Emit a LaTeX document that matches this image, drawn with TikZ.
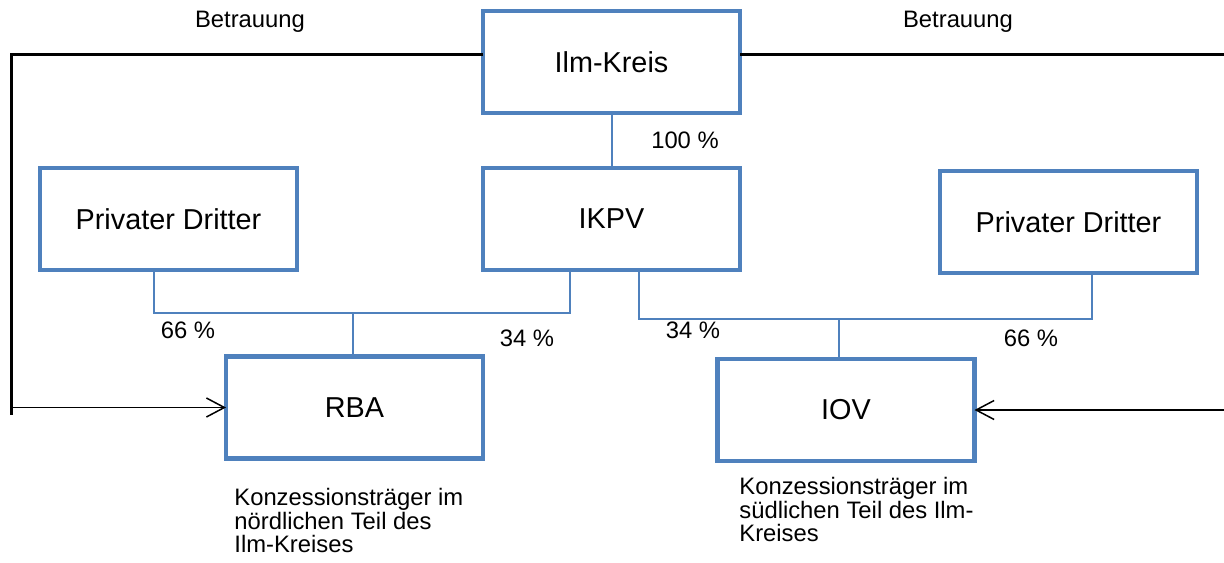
\documentclass[tikz,border=0pt]{standalone}
\usepackage{fontspec}
\setmainfont{Liberation Sans}
\usetikzlibrary{positioning,arrows.meta}
\definecolor{boxblue}{HTML}{4F81BD}

\begin{document}
\begin{tikzpicture}[x=0.5pt,y=-0.5pt,
  box/.style={draw=boxblue, line width=2.4pt, minimum width=128.5pt, minimum height=51pt,
              inner sep=0pt, outer sep=0pt, font=\fontsize{14.4}{17}\selectfont},
  link/.style={draw=boxblue, line width=1pt},
  duty/.style={draw=black, line width=1.5pt},
  dutyarrow/.style={draw=black, line width=0.9pt, -{Straight Barb[length=9pt,width=9.5pt,line width=0.75pt]}},
  small/.style={font=\fontsize{11.9}{11.75}\selectfont, inner sep=0pt}]
\useasboundingbox (0,0) rectangle (1224,562);

\node[box] (IK) at (611.5,62) {Ilm-Kreis};
\node[box] (IKPV) [below=27.5pt of IK] {IKPV};
\node[box] (PDl) [left=93pt of IKPV] {Privater Dritter};
\node[box] (PDr) at (1068.5,222) {Privater Dritter};
\node[box] (RBA) at (354.5,407.5) {RBA};
\node[box] (IOV) at (846,410) {IOV};

\node[small] (b1) at (250,22) {Betrauung};
\node[small] (b2) at (958,22) {Betrauung};
\node[small] (p100) at (685,140) {100 \%};
\node[small] (p66l) at (188,330) {66 \%};
\node[small] (p34l) at (527,338) {34 \%};
\node[small] (p34r) at (693,330) {34 \%};
\node[small] (p66r) at (1031,338) {66 \%};

\node[small, anchor=north west, align=left] (dl) at (234,488)
  {Konzessionsträger im\\nördlichen Teil des\\Ilm-Kreises};
\node[small, anchor=north west, align=left] (dr) at (739,477)
  {Konzessionsträger im\\südlichen Teil des Ilm-\\Kreises};

% shares
\coordinate (jl) at (353,313);
\coordinate (jr) at (839,319);
\draw[link] (IK) -- (IKPV);
\draw[link] ([xshift=-7.25pt]PDl.south) |- (jl) -| ([xshift=-20.75pt]IKPV.south);
\draw[link] (jl) -- (jl |- RBA.north);
\draw[link] ([xshift=13.75pt]IKPV.south) |- (jr) -| ([xshift=11.75pt]PDr.south);
\draw[link] (jr) -- (jr |- IOV.north);

% Betrauung
\coordinate (tl) at (11,54);
\coordinate (bl) at (11,415);
\coordinate (tr) at (1224,54);
\draw[duty] ([yshift=4pt]IK.west) -- (tl) -- (bl);
\draw[duty] ([yshift=4pt]IK.east) -- (tr);
\draw[dutyarrow] (bl |- RBA.west) -- (RBA.west);
\draw[dutyarrow] (tr |- IOV.east) -- (IOV.east);
\end{tikzpicture}
\end{document}
